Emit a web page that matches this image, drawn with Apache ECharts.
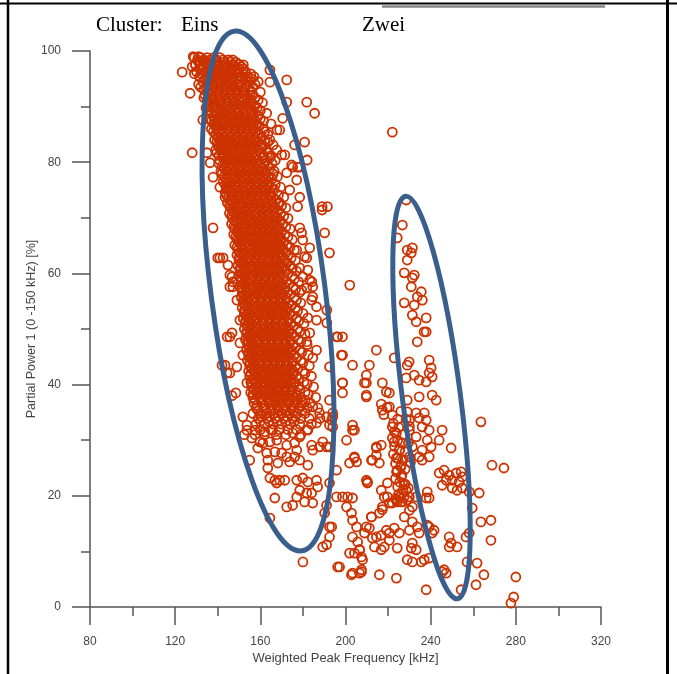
<!DOCTYPE html>
<html>
<head>
<meta charset="utf-8">
<script src="https://cdn.jsdelivr.net/npm/echarts@6/dist/echarts.min.js"></script>
<style>
html,body{margin:0;padding:0;background:#fff;}
#chart{width:677px;height:674px;}
</style>
</head>
<body>
<div id="chart"></div>
<script>
// Axis ticks
const xTicks = [80, 120, 160, 200, 240, 280, 320];
const yTicks = [0, 20, 40, 60, 80, 100];
const xName = 'Weighted Peak Frequency [kHz]';
const yName = 'Partial Power 1 (0 -150 kHz) [%]';
const clusterLabels = ['Cluster:', 'Eins', 'Zwei'];

// Dense core of cluster "Eins": rows of [y, [x values]]
const einsCoreRows = [
  [98.8, [129, 132, 135, 138, 141]],
  [98.0, [131, 134.5, 137, 140, 143, 146, 148.5]],
  [97.2, [128, 133, 136, 139, 142.5, 145, 148, 151]],
  [96.3, [130, 134, 137.5, 140, 143, 146.5, 150, 153]],
  [95.4, [131.5, 135, 138, 141.5, 144, 147, 150.5, 154, 157]],
  [94.5, [133, 136, 139.5, 142, 145.5, 148, 151, 155, 159]],
  [93.5, [132, 134.5, 138, 141, 144, 147, 150, 153, 156.5]],
  [92.6, [135, 137.5, 140.5, 143.5, 146, 149, 152, 155.5, 160]],
  [91.6, [133.5, 136.5, 139, 142, 145, 148, 151, 154, 157.5]],
  [90.7, [136, 138.5, 141.5, 144.5, 147.5, 150.5, 153.5, 156, 161]],
  [89.8, [134.5, 137.5, 140, 143, 146, 149, 152, 155, 158.5]],
  [88.8, [137, 139.5, 142.5, 145.5, 148.5, 151.5, 154.5, 157.5, 163]],
  [87.8, [136, 138.5, 141.5, 144, 147, 150, 153, 156, 160]],
  [86.9, [138, 140.5, 143.5, 146.5, 149.5, 152.5, 155.5, 158.5, 165]],
  [86.0, [137, 139.5, 142, 145, 148, 151, 154, 157, 161.5]],
  [85.0, [139, 141.5, 144.5, 147.5, 150.5, 153.5, 156.5, 159.5, 163.5]],
  [84.0, [138.5, 141, 143.5, 146, 149, 152, 155, 158, 162]],
  [83.1, [140, 142.5, 145, 148, 151, 154, 157, 160.5, 166]],
  [82.2, [139, 141.5, 144, 147, 150, 153, 156, 159, 163]],
  [81.2, [140.5, 143, 146, 149, 152, 155, 158, 161.5, 165]],
  [80.3, [141, 144, 147, 150, 153, 156, 159, 162.5, 167]],
  [79.3, [142, 145, 148, 151, 154, 157, 160, 163.5]],
  [78.4, [141.5, 144, 147.5, 150.5, 153.5, 156.5, 159.5, 162, 166.5]],
  [77.4, [143, 146, 149, 152, 155, 158, 161, 164, 168]],
  [76.5, [142.5, 145, 148.5, 151.5, 154.5, 157.5, 160.5, 163.5]],
  [75.5, [144, 147, 150, 153, 156, 159, 162, 165, 169.5]],
  [74.6, [143.5, 146, 149.5, 152.5, 155.5, 158.5, 161.5, 164.5]],
  [73.7, [145, 148, 151, 154, 157, 160, 163, 166, 171]],
  [72.7, [144.5, 147, 150.5, 153.5, 156.5, 159.5, 162.5, 165.5, 168.5]],
  [71.8, [146, 149, 152, 155, 158, 161, 164, 167, 172]],
  [70.8, [145.5, 148, 151.5, 154.5, 157.5, 160.5, 163.5, 166.5, 169.5]],
  [69.9, [147, 150, 153, 156, 159, 162, 165, 168, 173]],
  [68.9, [146.5, 149, 152.5, 155.5, 158.5, 161.5, 164.5, 167.5, 170.5]],
  [68.0, [148, 151, 154, 157, 160, 163, 166, 169, 174]],
  [67.0, [147.5, 150, 153.5, 156.5, 159.5, 162.5, 165.5, 168.5, 171.5]],
  [66.1, [149, 152, 155, 158, 161, 164, 167, 170, 175]],
  [65.1, [148, 151, 154.5, 157.5, 160.5, 163.5, 166.5, 169.5, 172.5]],
  [64.2, [149.5, 152.5, 156, 159, 162, 165, 168, 171, 176]],
  [63.3, [149, 151.5, 155, 158, 161, 164, 167, 170, 173]],
  [62.3, [150, 153, 156, 159, 162, 165, 168, 171.5, 176.5]],
  [61.4, [149.5, 152, 155.5, 158.5, 161.5, 164.5, 167.5, 170.5, 174]],
  [60.4, [150.5, 153.5, 157, 160, 163, 166, 169, 172, 177]],
  [59.5, [150, 152.5, 156, 159, 162, 165, 168, 171, 175]],
  [58.5, [151, 154, 157, 160, 163, 166, 169, 172.5, 178]],
  [57.6, [150.5, 153, 156.5, 159.5, 162.5, 165.5, 168.5, 171.5, 175.5]],
  [56.6, [151.5, 154.5, 158, 161, 164, 167, 170, 173, 178.5]],
  [55.7, [151, 153.5, 157, 160, 163, 166, 169, 172, 176]],
  [54.7, [152, 155, 158, 161, 164, 167, 170, 173.5, 179]],
  [53.8, [151.5, 154, 157.5, 160.5, 163.5, 166.5, 169.5, 172.5, 176.5]],
  [52.8, [152.5, 155.5, 159, 162, 165, 168, 171, 174, 180]],
  [51.9, [152, 154.5, 158, 161, 164, 167, 170, 173, 177]],
  [51.0, [153, 156, 159, 162, 165, 168, 171, 174.5, 180.5]],
  [50.0, [152.5, 155, 158.5, 161.5, 164.5, 167.5, 170.5, 173.5, 177.5]],
  [49.1, [153.5, 156.5, 160, 163, 166, 169, 172, 175, 181]],
  [48.1, [153, 155.5, 159, 162, 165, 168, 171, 174, 178]],
  [47.2, [154, 157, 160, 163, 166, 169, 172, 175.5, 182]],
  [46.2, [153.5, 156, 159.5, 162.5, 165.5, 168.5, 171.5, 174.5, 178.5]],
  [45.3, [154.5, 157.5, 161, 164, 167, 170, 173, 176, 182.5]],
  [44.3, [154, 156.5, 160, 163, 166, 169, 172, 175, 179]],
  [43.4, [155, 158, 161, 164, 167, 170, 173, 176.5, 183]],
  [42.4, [154.5, 157, 160.5, 163.5, 166.5, 169.5, 172.5, 175.5, 180]],
  [41.5, [155, 158.5, 162, 165, 168, 171, 174, 177, 184]],
  [40.5, [155.5, 158, 161, 164, 167, 170, 173, 176, 180.5]],
  [39.6, [156, 159, 162.5, 165.5, 168.5, 171.5, 174.5, 178, 185]],
  [38.6, [155.5, 158.5, 161.5, 164.5, 167.5, 171, 174, 177, 181]],
  [37.7, [156.5, 160, 163, 166, 169, 172, 175.5, 179, 186]],
  [36.7, [157, 160.5, 164, 167, 170, 173, 176.5, 180, 183.5]],
  [35.8, [158, 161.5, 165, 168, 171, 174.5, 178, 182, 187]],
  [34.8, [156.5, 160, 163, 166.5, 170, 173.5, 177, 181]],
  [33.9, [159, 163, 167, 171, 175, 179, 183, 188]],
  [32.9, [158, 162, 166, 170, 174, 178.5, 184]],
  [31.9, [160, 165, 169, 173, 177, 182]],
  [31.0, [157.5, 162, 167.5, 172, 179]]
];

// Second, interleaved layer of the dense "Eins" core
const einsCoreRows2 = [
  [98.4, [130.5, 133.5, 136.5, 139.5, 142.5, 145]],
  [97.6, [129.5, 132, 135.5, 138.5, 141, 144, 147, 150]],
  [96.8, [131.5, 135, 138, 141, 144, 147, 149.5, 152]],
  [95.9, [129, 132.5, 136, 139, 142, 145.5, 148.5, 152, 155.5]],
  [95.0, [134, 137, 140.5, 143, 146.5, 149.5, 153, 156]],
  [94.0, [131, 135, 138, 141, 144, 147, 150, 153.5, 157.5]],
  [93.1, [133.5, 136.5, 139.5, 142.5, 145.5, 148.5, 151.5, 155]],
  [92.1, [134, 137, 140, 143, 146.5, 149.5, 153, 156.5]],
  [91.2, [135, 138, 141, 144, 147, 150, 152.5, 155.5, 159]],
  [90.2, [135.5, 139, 142, 145, 148, 151, 154, 157.5]],
  [89.3, [136, 139, 142, 145, 148, 150.5, 153.5, 156.5, 160]],
  [88.3, [138, 141, 144, 147, 150, 153, 156, 159]],
  [87.4, [137, 140, 143, 145.5, 148.5, 151.5, 154.5, 157.5, 161.5]],
  [86.5, [139, 142, 145, 148, 151, 153.5, 156.5, 159.5]],
  [85.5, [138, 140.5, 143, 146, 149, 152, 155, 158, 162]],
  [84.5, [140, 142.5, 145.5, 148.5, 151.5, 154.5, 157.5, 160.5]],
  [83.6, [139.5, 141.5, 144, 147, 150, 153, 156, 159, 163.5]],
  [82.7, [140.5, 143, 146, 149, 152, 155, 158, 161]],
  [81.7, [139.5, 142, 144.5, 147.5, 150.5, 153.5, 156.5, 160, 163.5]],
  [80.8, [142.5, 145.5, 148.5, 151.5, 154.5, 157.5, 161, 164.5]],
  [79.8, [140.5, 143.5, 146.5, 149.5, 152.5, 155.5, 158.5, 162, 165.5]],
  [78.9, [143, 146, 149, 152, 155, 158, 161, 164.5]],
  [77.9, [142, 144.5, 147.5, 150.5, 153.5, 156.5, 159.5, 162.5, 166]],
  [77.0, [144, 147, 150, 153, 156.5, 159.5, 162.5, 165.5]],
  [76.0, [143.5, 146, 149, 152, 155, 158, 161, 164, 167]],
  [75.1, [145, 148, 151, 154, 157, 160, 163, 166.5]],
  [74.1, [144, 147, 150, 153, 156, 159, 162, 165, 168.5]],
  [73.2, [146, 149, 152, 155, 158.5, 161.5, 164.5, 167.5]],
  [72.2, [145.5, 148, 151, 154, 157, 160, 163, 166, 170]],
  [71.3, [147, 150, 153, 156.5, 159.5, 162.5, 165.5, 168.5]],
  [70.3, [146.5, 149, 152, 155, 158, 161, 164, 167, 171]],
  [69.4, [148, 151, 154, 157, 160, 163, 166, 169.5]],
  [68.4, [147.5, 150, 153, 156, 159, 162, 165, 168, 172]],
  [67.5, [149, 152, 155, 158, 161, 164, 167, 170]],
  [66.6, [148.5, 151, 154, 157, 160, 163, 166, 169, 173]],
  [65.6, [150, 153, 156, 159, 162, 165, 168, 171]],
  [64.7, [149, 151.5, 154.5, 157.5, 160.5, 163.5, 166.5, 169.5, 174]],
  [63.7, [150.5, 153.5, 156.5, 159.5, 162.5, 165.5, 168.5, 172]],
  [62.8, [150, 152, 155, 158, 161, 164, 167, 170, 174.5]],
  [61.9, [151, 154, 157, 160, 163, 166, 169, 172.5]],
  [60.9, [150.5, 152.5, 155.5, 158.5, 161.5, 164.5, 167.5, 170.5, 175]],
  [60.0, [151.5, 154.5, 157.5, 160.5, 163.5, 166.5, 169.5, 173]],
  [59.0, [151, 153, 156, 159, 162, 165, 168, 171, 176]],
  [58.1, [152, 155, 158, 161, 164, 167, 170, 173.5]],
  [57.1, [151.5, 153.5, 156.5, 159.5, 162.5, 165.5, 168.5, 171.5, 176.5]],
  [56.2, [152.5, 155.5, 158.5, 161.5, 164.5, 167.5, 170.5, 174]],
  [55.2, [152, 154, 157, 160, 163, 166, 169, 172, 177]],
  [54.2, [153, 156, 159, 162, 165, 168, 171, 174.5]],
  [53.3, [152.5, 154.5, 157.5, 160.5, 163.5, 166.5, 169.5, 172.5, 177.5]],
  [52.4, [153.5, 156.5, 159.5, 162.5, 165.5, 168.5, 171.5, 175]],
  [51.4, [153, 155, 158, 161, 164, 167, 170, 173, 178]],
  [50.5, [154, 157, 160, 163, 166, 169, 172, 175.5]],
  [49.5, [153.5, 155.5, 158.5, 161.5, 164.5, 167.5, 170.5, 173.5, 178.5]],
  [48.6, [154.5, 157.5, 160.5, 163.5, 166.5, 169.5, 172.5, 176]],
  [47.7, [154, 156, 159, 162, 165, 168, 171, 174, 179]],
  [46.7, [155, 158, 161, 164, 167, 170, 173, 176.5]],
  [45.8, [154.5, 156.5, 159.5, 162.5, 165.5, 168.5, 171.5, 174.5, 179.5]],
  [44.8, [155.5, 158.5, 161.5, 164.5, 167.5, 170.5, 173.5, 177]],
  [43.9, [155, 157, 160, 163, 166, 169, 172, 175, 180]],
  [42.9, [156, 159, 162, 165, 168, 171, 174, 177.5]],
  [42.0, [155.5, 157.5, 160.5, 163.5, 166.5, 169.5, 172.5, 175.5, 181]],
  [41.0, [156.5, 159.5, 162.5, 165.5, 168.5, 171.5, 174.5, 178]],
  [40.1, [156, 158, 161, 164, 167, 170, 173, 176, 182]],
  [39.1, [157, 160, 163, 166, 169, 172, 175, 178.5]],
  [38.2, [156.5, 158.5, 161.5, 164.5, 167.5, 170.5, 173.5, 177, 182.5]],
  [37.2, [157.5, 161, 164.5, 167.5, 170.5, 174, 177.5, 181]],
  [36.3, [158.5, 162, 165.5, 169, 172, 175.5, 179]],
  [35.3, [159, 162.5, 165, 168.5, 172, 175.5, 179.5]],
  [34.3, [160.5, 164.5, 168.5, 172.5, 176.5]],
  [33.4, [160, 164, 168, 172, 176]]
];

// Scattered points around cluster "Eins" [frequency, power]
const einsEdgePoints = [
  [123.3,96.2],[127,92.4],[128,81.7],[128.5,99],[131,99],[129.5,97.5],[147,98.4],[152,97.5],
  [164.5,96.6],[172.4,94.8],[164.5,94.4],[172.4,90.8],[181.8,90.8],[185.5,88.8],[170.5,87.9],[167.8,85.8],
  [180.8,83.6],[176.1,83.1],[182,80.4],[177.5,79.1],[174.7,79.5],[170,81.3],[189,72],[191.5,72],
  [133,87.6],[135,81.7],[136.4,79.9],[137.8,77.3],[141,75.5],[143.4,73.7],[146.7,72.7],
  [169.1,85.8],[164.5,84],[167.7,82.2],[171.5,81.3],[175.2,79.1],[178.5,79.1],[172.4,78.1],[177.1,76.8],
  [173.8,75],[178.5,73.7],[177.5,72],[169.1,72.7],
  [137.8,68.2],[141,62.8],[144.8,61.5],[146.7,59.4],[147.1,57.6],[149,55.2],[150.4,51.6],[145.7,48.6],
  [150.4,47.5],[151.8,45.3],[143.4,43.5],[145.7,42.1],[153.7,40.3],[140,62.8],[142.5,62.8],[145.7,59.7],
  [147.1,58.5],[145.7,57.6],[144.4,48.6],[146.7,49.3],[142,43.5],[144.4,42.1],[149,43.2],
  [179.4,67.3],[177.1,64.2],[181.8,62.8],[182.3,60.6],[184.2,58.5],[181.8,57.4],[184.6,55.8],[186.4,54],
  [182.3,52],[191.2,53.4],[191.2,51.1],[196.3,48.6],[198.6,45.3],[192.5,43.2],[198.6,40.3],[190.2,67.3],
  [192.5,63.7],[202,57.9],[189,71.4],
  [178.5,68.2],[179.9,66],[183.2,64.6],[180.8,63],[178.5,61],[179.9,59.4],[183.2,58.8],[179.4,57],
  [184.6,57.6],[184.1,55.2],[186.4,51.6],[183.2,49.3],[181.8,47.7],[186.4,46.2],[184.6,44.8],
  [146.7,38],[148.5,38.5],[153.7,31.8],[152.5,31],[155,26.4],[159.8,29.7],[161.2,29.5],[164.5,29.7],
  [167.7,30],[163.5,26.4],[168.2,25.9],[173.8,26.1],[176.1,27],[178.5,26.4],[182.3,25.5],[177.1,28.2],
  [184.6,28.2],[187.8,28.8],[191.1,28.8],[189.3,29.7],[184.1,29.1],[163.5,25],[164.5,23.2],[166.8,22.8],
  [169.1,22.8],[171.5,22.8],[167.7,22.3],[177.1,22.8],[179.9,23.2],[182.3,22.5],[186.4,22.8],[186.9,21.6],
  [178.5,21],[181.8,20.5],[184.1,20.5],[184.6,18.7],[166.8,19.6],[172.4,18],[175.2,18.3],[177.1,19.8],
  [180.8,18.9],[164.5,16],[191.1,18.3],[190.2,16.9],[193.5,14.4],[192.5,12.6],[189.3,10.8],[191.1,11.2],
  [180,8.1],[194,34.2],[194,32.4],
  [156,30.4],[158.8,28.6],[163,27.7],[166.8,27.9],[170,27.7],[172.4,27],[151.8,34.2],[153.7,32.7],
  [157.4,31.8],[162.1,31.5],[165.8,31.8],[175.2,31.3],[178.5,30.6],[182.3,31.8],[172.4,29.1],[176.1,29.5],
  [187.8,34.9],[191.1,34.2],[193.5,33.6],[186.4,33.1],[184.6,36]
];

// Points between the clusters and around cluster "Zwei" [frequency, power]
const zweiPoints = [
  [198.6,38.5],[208.9,40.3],[209.8,37.8],[203.3,32.7],[203.3,31.8],[200.5,30],[214.5,28.8],[214.5,27.3],
  [212.6,26.4],[204.2,27],[205.2,26.1],[209.8,22.8],[195.8,19.8],[198.6,19.8],[201,19.8],[203.3,19.6],
  [200.5,18],[202.8,16.9],[203.3,15.6],[205.2,14.4],[203.3,12.6],[201.9,9.7],[204.2,9.7],[206.6,10.3],
  [208,8.5],[207.5,6.3],[203.3,6.1],[197.2,7.2],[209.8,14.4],[212.2,16.2],[214.5,12.6],[213.6,10.8],[210.3,22.5],
  [222,85.4],[228.5,73.2],[226.7,68.7],[224.3,66.4],[229,64.2],[231.4,64.6],[230.9,63.7],[229,62.4],
  [227.6,60.1],[232.3,59.7],[231.4,59.2],[230.9,57.6],[235.6,56.7],[233.7,55.8],[236.1,55.2],[227.6,54.7],
  [232.3,54.3],[231.4,52.5],[237.9,52],[233.2,51.3],[236.9,49.5],[237.9,49.5],[233.7,47.7],[214.5,46.2],
  [203.3,43.5],[211.2,43.5],[222.9,44.8],[229.9,44.1],[229,43.5],[239.3,44.4],[240.2,43],[195.8,48.6],
  [198.6,48.6],[198.1,45.3],
  [209.8,41.7],[209.8,40.3],[209.8,38.1],[198.6,40.3],[217.3,40.3],[219.2,38.7],[220.6,38.5],[217.3,35.4],
  [220.6,36],[228.5,41.2],[232.3,41.7],[234.6,40.8],[237.9,40.5],[239.3,42.1],[240.7,41.4],[229,37.2],
  [234.6,37.8],[240.7,38.1],[242.6,37.2],[216.8,36.5],[219.5,35.9],[218,34.6],[229,35.1],[233.2,34.9],
  [230,33.6],[234.6,34],[237,34.9],[237.9,33.6],[222,32.4],[223.9,31.3],[222.9,29.7],[225.3,28.2],
  [223.9,26.8],[226.2,25.5],[224.3,24.6],[226.2,23.4],[227.6,21.9],[228.5,21],[225.3,19.8],[224.3,18.9],
  [226.7,18.9],[230,19.8],[231.4,18],[230,31.8],[233.2,30.6],[236,32.4],[239.3,31.8],[238.4,30],
  [231.4,28.8],[236,28.2],[240.2,28.8],[239.3,27],[244,30],[245.4,31.8],[234.6,27],[236,26.4],
  [230,27],[249.6,28.6],[263.6,33.3],[268.8,25.5],[274.4,25],[244,24.1],[246.3,24.6],[248.7,23.7],
  [252,24.1],[254.3,24.3],[254.8,23.4],[247.3,22.8],[250.1,22.8],[253.4,22.5],[245.4,21.9],[250.1,21.4],
  [252.4,21],[254.8,21.4],[258.1,20.7],[262.8,20.5],[259.5,17.8],[238.4,20.7],[233.2,19.8],[237.9,19.6],
  [239.3,19.6],[216.8,21],[219.7,19.8],[223.9,19.2],[204.2,31.8],[204.2,26.8],[201.9,25.9],[214.5,28.6],
  [216.8,29.1],[212.2,26.4],[215.9,25.9],[210.3,22.3],[219.7,22.3],[218.2,19.8],[222,18.7],[217.3,18],
  [220.6,18.7],[205.7,11.7],[206.6,10.3],[207.5,9],[196.3,7.2],[202.8,5.8],[206.6,6.1],[207.5,6.7],
  [215.9,5.8],[223.9,5.2],[208.9,13.3],[211.2,14.2],[212.6,12.4],[216.8,12.9],[219.2,13.8],[220.6,13.3],
  [222.9,14.2],[225.3,13.3],[224.3,10.6],[220.6,12],[218.2,10.8],[216.8,10.3],[229,8.5],[231.4,8.1],
  [235.6,8.1],[237,8.5],[239.3,8.8],[231.4,11.5],[233.2,10.3],[230.9,10.6],[238.4,14.7],[241.6,13.8],
  [237.9,3.1],[246.3,6.7],[247.3,6.1],[245.4,6.3],[254.3,3.1],[248.7,12.6],[248.7,10.8],[252.4,10.8],
  [249.6,11.5],[256.6,12.6],[258.1,13.3],[257.1,8.1],[261.8,7.9],[261.3,4],[265,5.8],[263.6,15.3],
  [268.3,15.6],[268.3,12],[280,5.4],[279,1.8],[277.7,0.7],[192.5,37.2],[194,34.9],[192.5,32.7],
  [192.5,28.8],[195.8,24.6],[192.5,22.3],[192.5,14.4],
  [212.2,16.2],[215.9,16.9],[217.3,17.5],[227.6,16.2],[230,17.4],[231.4,15.3],[233.7,14.4],[230,13.8],
  [234.6,13.3],[239.3,14.4],[240.7,13.3],
  [222,34.5],[224.5,33.8],[226,35.2],[222.5,33],[225,32.3],[223,31.5],[227,31],[222,30.4],
  [224.5,30],[226.5,29.5],[223,28.9],[225.5,28.3],[228,27.9],[222.5,27.5],[224.5,26.8],[227,26.5],
  [223.5,25.8],[226,25.2],[228,24.8],[224,24.3],[226.5,23.7],[223.5,23.1],[225.5,22.5],[228,22.1],
  [224.5,21.6],[227,21],[229.5,21.4],[225,20.3],[227.5,19.8],[223.5,19.5],[226,18.9],[229,19.2],
  [230.5,26],[229.5,29.5],[230,32.5],[228.5,33.8]
];

const allPoints = [];
einsCoreRows.concat(einsCoreRows2).forEach(function (row) {
  row[1].forEach(function (x) { allPoints.push([x, row[0]]); });
});
einsEdgePoints.forEach(function (p) { allPoints.push(p); });
zweiPoints.forEach(function (p) { allPoints.push(p); });

const chart = echarts.init(document.getElementById('chart'), null, { renderer: 'canvas' });
const axisColor = '#555';
const labelColor = '#444';
const sansFont = "'Liberation Sans', Arial, sans-serif";
const serifFont = "'Liberation Serif', 'Times New Roman', serif";
const ellipseColor = '#3a5f8d';

chart.setOption({
  animation: false,
  backgroundColor: '#fff',
  grid: { left: 90, right: 76, top: 51, bottom: 67, containLabel: false },
  xAxis: {
    type: 'value',
    min: xTicks[0], max: xTicks[xTicks.length - 1], interval: 40,
    name: xName, nameLocation: 'middle', nameGap: 45, nameMoveOverlap: false,
    nameTextStyle: { fontFamily: sansFont, fontSize: 13, color: labelColor },
    axisLine: { show: true, onZero: false, lineStyle: { color: axisColor, width: 1.5 } },
    axisTick: { show: true, inside: false, length: 18, lineStyle: { color: axisColor, width: 1.5 } },
    minorTick: { show: true, splitNumber: 2, length: 9, lineStyle: { color: axisColor, width: 1.5 } },
    axisLabel: { margin: 29, fontFamily: sansFont, fontSize: 12, color: labelColor },
    splitLine: { show: false }
  },
  yAxis: {
    type: 'value',
    min: yTicks[0], max: yTicks[yTicks.length - 1], interval: 20,
    name: yName, nameLocation: 'middle', nameGap: 52, nameMoveOverlap: false,
    nameTextStyle: { fontFamily: sansFont, fontSize: 12.5, color: labelColor },
    axisLine: { show: true, onZero: false, lineStyle: { color: axisColor, width: 1.5 } },
    axisTick: { show: true, inside: false, length: 18, lineStyle: { color: axisColor, width: 1.5 } },
    minorTick: { show: true, splitNumber: 2, length: 9, lineStyle: { color: axisColor, width: 1.5 } },
    axisLabel: { margin: 29, fontFamily: sansFont, fontSize: 12, color: labelColor },
    splitLine: { show: false }
  },
  series: [{
    type: 'scatter',
    data: allPoints,
    symbol: 'circle',
    symbolSize: 9,
    large: false,
    progressive: 0,
    itemStyle: { color: 'rgba(0,0,0,0)', borderColor: '#cc3300', borderWidth: 1.8, opacity: 1 },
    emphasis: { disabled: true },
    z: 2
  }],
  graphic: [
    { type: 'line', z: 50, shape: { x1: 0, y1: 3.5, x2: 677, y2: 3.5 }, style: { stroke: '#000', lineWidth: 2 } },
    { type: 'line', z: 50, shape: { x1: 382, y1: 6.5, x2: 605, y2: 6.5 }, style: { stroke: '#888', lineWidth: 2.5 } },
    { type: 'line', z: 50, shape: { x1: 8, y1: 0, x2: 8, y2: 674 }, style: { stroke: '#000', lineWidth: 2.5 } },
    { type: 'line', z: 50, shape: { x1: 667.5, y1: 0, x2: 667.5, y2: 674 }, style: { stroke: '#000', lineWidth: 3 } },
    { type: 'text', z: 50, x: 96, y: 15, style: { text: clusterLabels[0], font: '21px ' + serifFont, fill: '#000', textVerticalAlign: 'top' } },
    { type: 'text', z: 50, x: 181, y: 15, style: { text: clusterLabels[1], font: '21px ' + serifFont, fill: '#000', textVerticalAlign: 'top' } },
    { type: 'text', z: 50, x: 362, y: 15, style: { text: clusterLabels[2], font: '21px ' + serifFont, fill: '#000', textVerticalAlign: 'top' } },
    { type: 'ellipse', z: 60, x: 268, y: 291, rotation: 0.129, shape: { cx: 0, cy: 0, rx: 57, ry: 262 }, style: { fill: 'none', stroke: ellipseColor, lineWidth: 5 } },
    { type: 'ellipse', z: 60, x: 431.5, y: 397.5, rotation: 0.128, shape: { cx: 0, cy: 0, rx: 29, ry: 203 }, style: { fill: 'none', stroke: ellipseColor, lineWidth: 5 } }
  ]
});
</script>
</body>
</html>
